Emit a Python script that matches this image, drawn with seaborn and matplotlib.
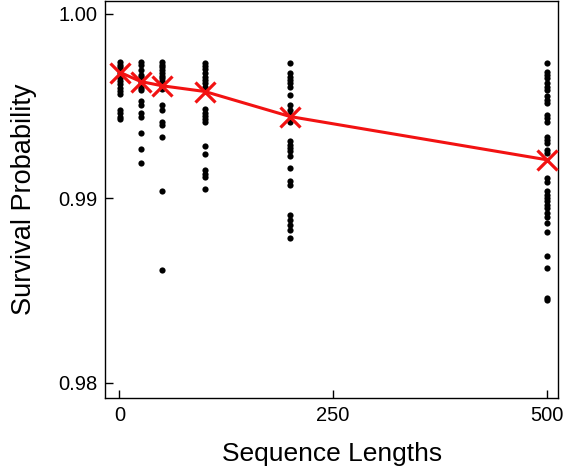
import numpy as np
import pandas as pd
import seaborn as sns
import matplotlib.pyplot as plt

# survival probability per sequence length
seq_lengths = [1, 25, 50, 100, 200, 500]

surv_1 = [0.99741, 0.99725, 0.99710, 0.99695, 0.99680, 0.99665, 0.99650, 0.99635,
          0.99620, 0.99600, 0.99580, 0.99565, 0.99480, 0.99462, 0.99443, 0.99431]
surv_25 = [0.99741, 0.99724, 0.99696, 0.99669, 0.99655, 0.99642, 0.99628, 0.99615,
           0.99600, 0.99588, 0.99525, 0.99507, 0.99462, 0.99443, 0.99353, 0.99267, 0.99191]
surv_50 = [0.99741, 0.99725, 0.99710, 0.99695, 0.99680, 0.99665, 0.99650, 0.99635,
           0.99620, 0.99605, 0.99590, 0.99507, 0.99480, 0.99416, 0.99398, 0.99330,
           0.99037, 0.98612]
surv_100 = [0.99736, 0.99718, 0.99700, 0.99679, 0.99660, 0.99642, 0.99624, 0.99606,
            0.99483, 0.99465, 0.99447, 0.99429, 0.99411, 0.99281, 0.99241, 0.99151,
            0.99133, 0.99118, 0.99051]
surv_200 = [0.99736, 0.99679, 0.99660, 0.99642, 0.99624, 0.99606, 0.99561, 0.99507,
            0.99480, 0.99453, 0.99416, 0.99308, 0.99290, 0.99272, 0.99254, 0.99227,
            0.99164, 0.99092, 0.99074, 0.98911, 0.98884, 0.98857, 0.98830, 0.98784]
surv_500 = [0.99733, 0.99687, 0.99669, 0.99651, 0.99624, 0.99606, 0.99588, 0.99552,
            0.99534, 0.99516, 0.99453, 0.99435, 0.99416, 0.99335, 0.99317, 0.99299,
            0.99263, 0.99245, 0.99109, 0.99091, 0.99037, 0.99019, 0.99001, 0.98983,
            0.98965, 0.98947, 0.98920, 0.98901, 0.98866, 0.98820, 0.98685, 0.98622,
            0.98459, 0.98450]

# mean survival (red crosses)
mean_surv = [0.99682, 0.99633, 0.99610, 0.99579, 0.99443, 0.99209]

all_runs = [surv_1, surv_25, surv_50, surv_100, surv_200, surv_500]
dataFrame = pd.DataFrame({
    'length': np.repeat(seq_lengths, [len(r) for r in all_runs]),
    'surv': np.concatenate(all_runs),
})
meanFrame = pd.DataFrame({'length': seq_lengths, 'surv': mean_surv})

sns.set_theme(style="ticks")
plt.rcParams['font.family'] = ['Liberation Sans', 'DejaVu Sans']
plt.rcParams['text.color'] = 'black'
plt.rcParams['axes.labelcolor'] = 'black'

fig = plt.figure(figsize=(5.64, 4.74), dpi=100)
ax = fig.add_axes([0.187, 0.161, 0.802, 0.837])

sns.scatterplot(data=dataFrame, x='length', y='surv', color='black', s=20,
                linewidth=0, ax=ax, zorder=2)
sns.lineplot(data=meanFrame, x='length', y='surv', color='#f21212', linewidth=2.2,
             marker='x', markersize=14, markeredgewidth=2.3, markeredgecolor='#f21212',
             ax=ax, zorder=3)

ax.set_xlim(-16.4, 513)
ax.set_ylim(0.97919, 1.0007)
ax.set_xticks([0, 250, 500])
ax.set_yticks([0.98, 0.99, 1.00])
ax.set_yticklabels(['0.98', '0.99', '1.00'])
ax.tick_params(direction='in', length=6, width=1, labelsize=14.5, colors='black', pad=6)
for sp in ax.spines.values():
    sp.set_visible(True)
    sp.set_color('black')
    sp.set_linewidth(1)

ax.set_xlabel('Sequence Lengths', fontsize=19, labelpad=12, color='black')
ax.set_ylabel('Survival Probability', fontsize=19.5, labelpad=15, color='black')

plt.savefig('out.png', dpi=100)
